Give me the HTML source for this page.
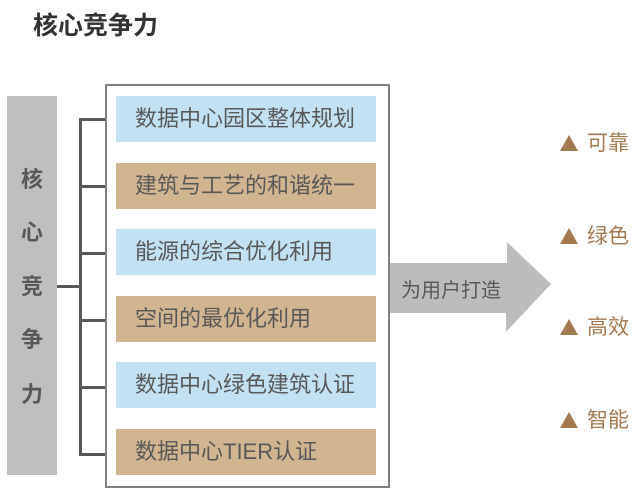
<!DOCTYPE html><html><head><meta charset="utf-8"><style>
body{margin:0;width:644px;height:488px;background:#fff;position:relative;overflow:hidden;font-family:"Liberation Sans","Noto Sans CJK SC",sans-serif}
.a{position:absolute}
.t{left:33px;top:6px;font-size:25px;font-weight:bold;color:#333}
.bar{left:7px;top:96px;width:50px;height:379px;background:#bfbfbf}
.c{left:7px;width:50px;text-align:center;font-size:22px;font-weight:bold;color:#595959;line-height:24px}
.box{left:105px;top:84px;width:281px;height:400px;border:2px solid #808080}
.it{left:116px;width:241px;padding-left:19px;height:46px;line-height:46px;font-size:22px;color:#595959;white-space:nowrap}
.b{background:#c2e2f3}.o{background:#d1b490}
.l{background:#595959}
.r{left:560px;font-size:21px;color:#a47950;line-height:24px}
.tri{display:inline-block;width:0;height:0;border-left:9px solid transparent;border-right:9px solid transparent;border-bottom:16px solid #a47950;margin-right:9px;vertical-align:-1px}
</style></head><body>
<div class="a t">核心竞争力</div>
<div class="a bar"></div>
<div class="a c" style="top:168px">核</div>
<div class="a c" style="top:221px">心</div>
<div class="a c" style="top:275px">竞</div>
<div class="a c" style="top:328px">争</div>
<div class="a c" style="top:383px">力</div>
<div class="a l" style="left:57px;top:285px;width:24px;height:3px"></div>
<div class="a l" style="left:79px;top:118px;width:3px;height:338px"></div>
<div class="a l" style="left:79px;top:118px;width:26px;height:3px"></div>
<div class="a l" style="left:79px;top:185px;width:26px;height:3px"></div>
<div class="a l" style="left:79px;top:252px;width:26px;height:3px"></div>
<div class="a l" style="left:79px;top:319px;width:26px;height:3px"></div>
<div class="a l" style="left:79px;top:386px;width:26px;height:3px"></div>
<div class="a l" style="left:79px;top:453px;width:26px;height:3px"></div>
<div class="a box"></div>
<div class="a it b" style="top:96px">数据中心园区整体规划</div>
<div class="a it o" style="top:163px">建筑与工艺的和谐统一</div>
<div class="a it b" style="top:229px">能源的综合优化利用</div>
<div class="a it o" style="top:296px">空间的最优化利用</div>
<div class="a it b" style="top:362px">数据中心绿色建筑认证</div>
<div class="a it o" style="top:429px">数据中心TIER认证</div>
<svg class="a" style="left:0;top:0" width="644" height="488"><polygon points="390,263 507,263 507,242 551,284 506,332 506,313 390,313" fill="#bcbcbc"/></svg>
<div class="a" style="left:401px;top:274px;font-size:20px;color:#595959;white-space:nowrap">为用户打造</div>
<div class="a r" style="top:132px"><span class="tri"></span>可靠</div>
<div class="a r" style="top:225px"><span class="tri"></span>绿色</div>
<div class="a r" style="top:316px"><span class="tri"></span>高效</div>
<div class="a r" style="top:409px"><span class="tri"></span>智能</div>
</body></html>
